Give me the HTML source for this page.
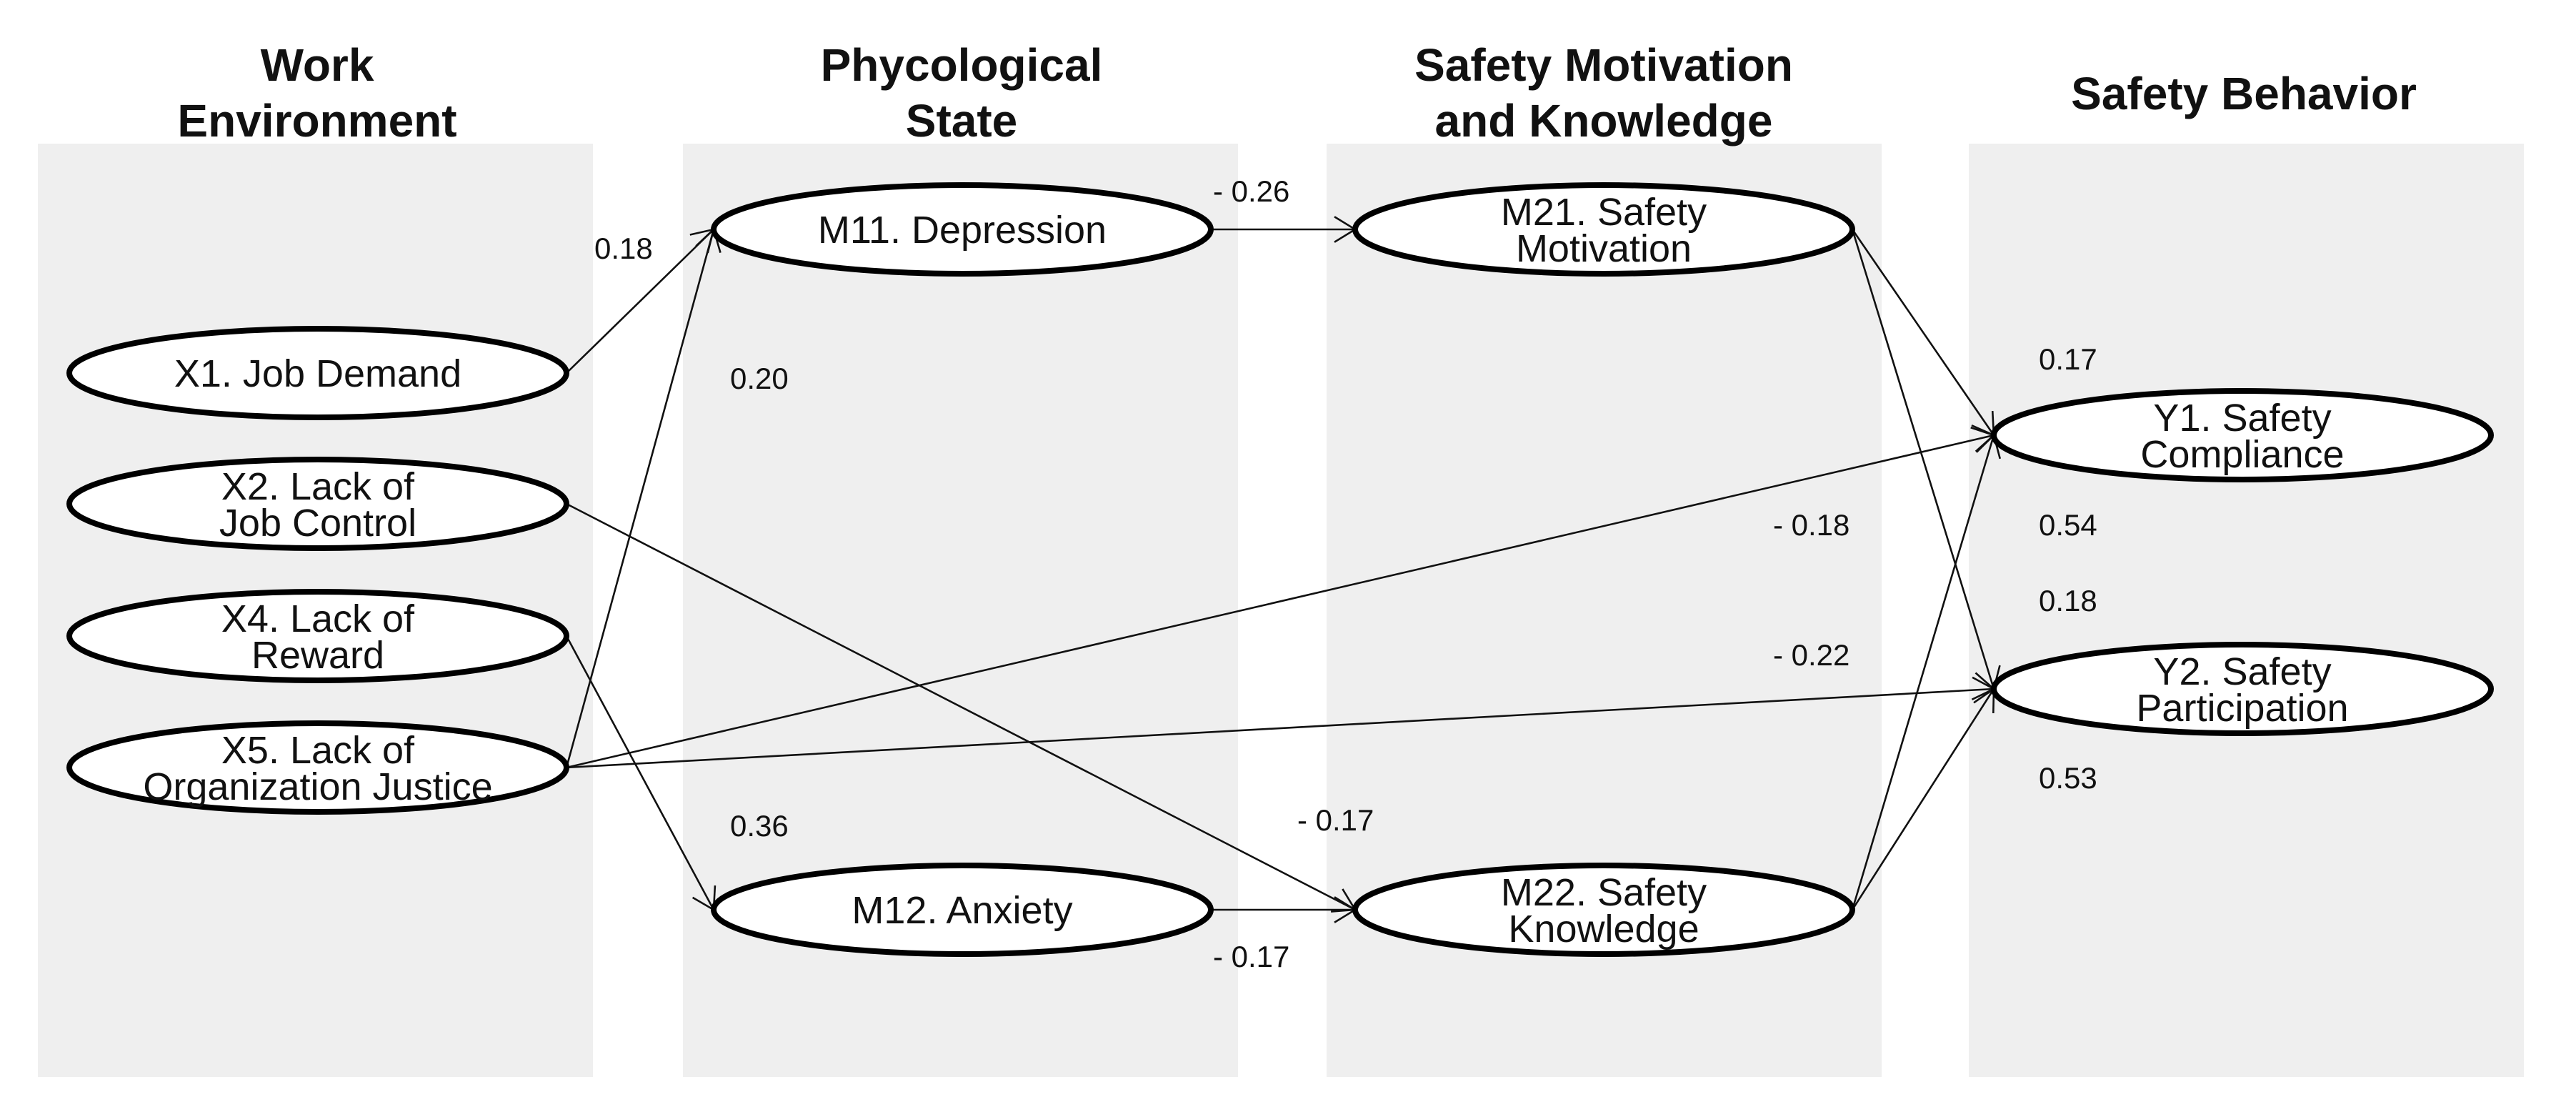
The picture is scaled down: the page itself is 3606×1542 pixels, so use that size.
<!DOCTYPE html>
<html><head><meta charset="utf-8"><style>
html,body{margin:0;padding:0;background:#fff;}
svg{display:block;}
text{font-family:"Liberation Sans",Arial,sans-serif;}
</style></head><body>
<svg id="chart" width="3606" height="1542" viewBox="0 0 3606 1542" xmlns="http://www.w3.org/2000/svg"></svg>
<script>
// Data
const groupTitles = [["Work","Environment"],["Phycological","State"],["Safety Motivation","and Knowledge"],["Safety Behavior"]];
const nodeIds = ["X1","X2","X4","X5","M11","M12","M21","M22","Y1","Y2"];
const nodeLabels = [["X1. Job Demand"],["X2. Lack of","Job Control"],["X4. Lack of","Reward"],["X5. Lack of","Organization Justice"],["M11. Depression"],["M12. Anxiety"],["M21. Safety","Motivation"],["M22. Safety","Knowledge"],["Y1. Safety","Compliance"],["Y2. Safety","Participation"]];
const edgeFrom = ["X1","X5","X4","X2","M11","M12","X5","X5","M21","M22","M21","M22"];
const edgeTo   = ["M11","M11","M12","M22","M21","M22","Y1","Y2","Y1","Y1","Y2","Y2"];
const edgeCoef = ["0.18","0.20","0.36","- 0.17","- 0.26","- 0.17","- 0.18","- 0.22","0.17","0.54","0.18","0.53"];

// Layout (not data)
const panelX = [53,956,1857,2756], panelW = 777, panelY = 201, panelH = 1306;
const titleCx = [444,1346,2245,3141];
const nodeCx = {X1:445,X2:445,X4:445,X5:445,M11:1347,M12:1347,M21:2245,M22:2245,Y1:3139,Y2:3139};
const nodeCy = {X1:522,X2:705,X4:890,X5:1074,M11:321,M12:1273,M21:321,M22:1273,Y1:609,Y2:964};
const rx = 348, ry = 62;
const labelPos = [[832,362],[1022,544],[1022,1170],[1816,1162],[1698,282],[1698,1353],[2482,749],[2482,931],[2854,517],[2854,749],[2854,855],[2854,1103]];

const NS = "http://www.w3.org/2000/svg";
const svg = document.getElementById('chart');
function mk(tag, attrs, parent){const e=document.createElementNS(NS,tag);for(const k in attrs)e.setAttribute(k,attrs[k]);(parent||svg).appendChild(e);return e;}

panelX.forEach((x,i)=>{
  const r = mk('rect',{x:x,y:panelY,width:panelW,height:panelH,fill:'#efefef'});
  
  
});
groupTitles.forEach((lines,i)=>{
  const t = mk('text',{x:titleCx[i],'text-anchor':'middle','font-size':64,'font-weight':'bold',fill:'#111'});
  
  
  const ys = lines.length===1 ? [153] : [113,191];
  lines.forEach((l,j)=>{const s=mk('tspan',{x:titleCx[i],y:ys[j]},t);s.textContent=l;});
});
edgeFrom.forEach((f,i)=>{
  const to = edgeTo[i];
  const x1 = nodeCx[f]+rx, y1 = nodeCy[f];
  const x2 = nodeCx[to]-rx, y2 = nodeCy[to];
  const g = mk('g',{});
  
  
  mk('line',{x1:x1,y1:y1,x2:x2,y2:y2,stroke:'#111','stroke-width':2.6},g);
  const a = Math.atan2(y2-y1,x2-x1), L=34, sp=0.55;
  [a+Math.PI-sp,a+Math.PI+sp].forEach(b=>{
    mk('line',{x1:x2,y1:y2,x2:x2+L*Math.cos(b),y2:y2+L*Math.sin(b),stroke:'#111','stroke-width':2.6},g);
  });
  const t = mk('text',{x:labelPos[i][0],y:labelPos[i][1],'font-size':42,fill:'#111'});
  
  
  t.textContent = edgeCoef[i];
});
nodeIds.forEach((id,i)=>{
  const g = mk('g',{});
  
  
  mk('ellipse',{cx:nodeCx[id],cy:nodeCy[id],rx:rx,ry:ry,fill:'#fff',stroke:'#000','stroke-width':8},g);
  const lines = nodeLabels[i];
  const t = mk('text',{'text-anchor':'middle','font-size':54,fill:'#111'},g);
  const ys = lines.length===1 ? [nodeCy[id]+19] : [nodeCy[id]-6, nodeCy[id]+45];
  lines.forEach((l,j)=>{const s=mk('tspan',{x:nodeCx[id],y:ys[j]},t);s.textContent=l;});
});
</script>
</body></html>
